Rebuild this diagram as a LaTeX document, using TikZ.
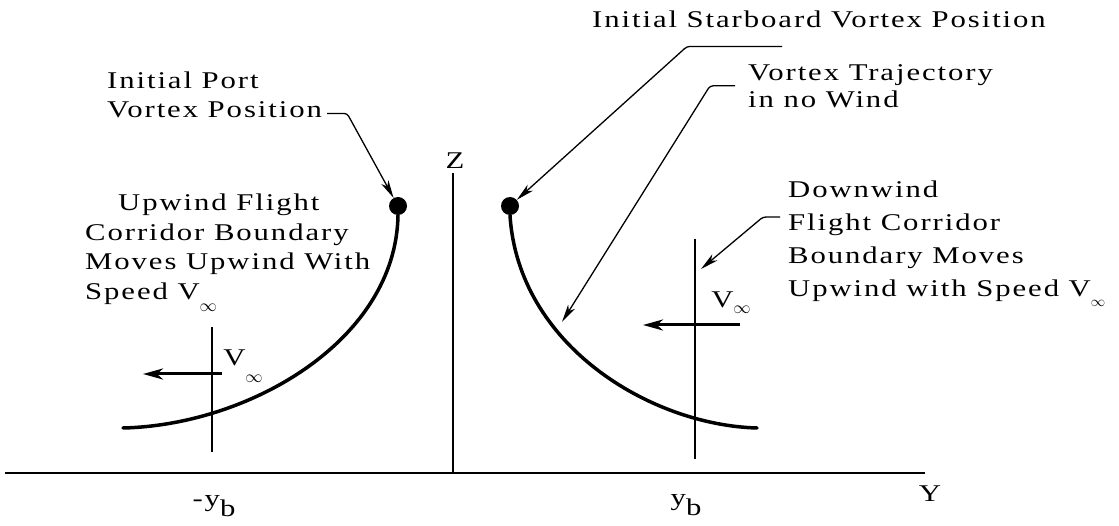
\documentclass[tikz,border=0pt]{standalone}
\usepackage{fontspec}
\setmainfont{Liberation Serif}[FakeStretch=1.28, LetterSpace=8]
\usetikzlibrary{arrows.meta, positioning}

\newcommand{\vinf}[2][18]{V\raisebox{-#2}{\fontsize{#1}{#1}\selectfont$\infty$}}
\newcommand{\lowb}{\raisebox{-0.4em}{b}}

\begin{document}
\begin{tikzpicture}[
    x=1pt, y=-1pt,
    font=\fontsize{24}{29}\selectfont,
    >=Stealth,
    % Line Styles
    axisline/.style={line width=2pt},
    thinline/.style={line width=1.2pt},
    trajectory/.style={line width=3.5pt, line cap=round},
    leader/.style={line width=1.3pt, rounded corners=3pt, -{Stealth[length=18pt, width=8pt, inset=5pt]}},
    wind/.style={line width=3pt, -{Stealth[length=20pt, width=11pt, inset=6pt]}},
    % Node Styles
    vortex/.style={circle, fill=black, inner sep=0pt, minimum size=18pt},
    txt/.style={inner sep=0pt, align=left, anchor=north west},
    axlabel/.style={inner sep=0pt}
]
\useasboundingbox (0,0) rectangle (1119,526);

% =========================================================
% AXES AND BOUNDARIES
% =========================================================
\coordinate (origin) at (453,473);
\coordinate (yStart) at (5,473);
\coordinate (yEnd) at (925,473);
\coordinate (zTop) at (453,173);
\draw[axisline] (yStart) -- (yEnd);
\draw[thinline] (origin) -- (zTop);

\node[axlabel] (zLabel) at (455,161) {Z};
\node[axlabel] (yLabel) at (930,494) {Y};

% Flight corridor boundaries
\coordinate (bndLTop) at (212,327);
\coordinate (bndLBot) at (212,452);
\coordinate (bndRTop) at (695,239);
\coordinate (bndRBot) at (695,459);
\draw[thinline] (bndLTop) -- (bndLBot);
\draw[thinline] (bndRTop) -- (bndRBot);

\node[axlabel] (ybLeft) at (214,506) {-y\lowb};
\node[axlabel] (ybRight) at (686,505) {y\lowb};

% =========================================================
% VORTICES AND TRAJECTORIES
% =========================================================
\node[vortex] (dotPort) at (398,206) {};
\node[vortex] (dotStar) at (510,206) {};

\draw[trajectory] (dotPort.south) .. controls (396,340) and (250,425) .. (123,428);
\draw[trajectory] (dotStar.south) .. controls (518,345) and (650,425) .. (757,428);

\coordinate (trajTip) at (562,322);
\coordinate (downTip) at (701,269);

% Wind arrows
\coordinate (windLTail) at (222,374);
\coordinate (windLHead) at (143,374);
\coordinate (windRTail) at (740,325);
\coordinate (windRHead) at (643,325);
\draw[wind] (windLTail) -- (windLHead);
\draw[wind] (windRTail) -- (windRHead);

\node[axlabel] (vinfLeft) at (243,366) {\vinf{0.7em}};
\node[axlabel] (vinfRight) at (731,303) {\vinf{0.25em}};

% =========================================================
% TEXT LABELS
% =========================================================
\node[txt] (lblPort) at (107,72) {Initial Port\\Vortex Position};
\node[txt, font=\fontsize{24}{29.5}\selectfont] (lblUpwind) at (85,194) {%
    \hspace*{33pt}Upwind Flight\\Corridor Boundary\\Moves Upwind With\\Speed \vinf{0.5em}};
\node[txt] (lblStar) at (592,11) {Initial Starboard Vortex Position};
\node[txt, font=\fontsize{24}{27}\selectfont] (lblTraj) at (748,64) {Vortex Trajectory\\in no Wind};
\node[txt, font=\fontsize{24}{33}\selectfont] (lblDown) at (788,181) {%
    Downwind\\Flight Corridor\\Boundary Moves\\Upwind with Speed \vinf[15]{0.4em}};

% Leaders
\draw[leader] ([shift={(5,-5)}]lblPort.south east) -- ++(20,0) -- (dotPort);
\draw[leader] ([shift={(190,18)}]lblStar.south west) -- ++(-95,0) -- (dotStar);
\draw[leader] ([xshift=-13pt]lblTraj.west) -- ++(-25,0) -- (trajTip);
\draw[leader] ([shift={(-8,36)}]lblDown.north west) -- ++(-17,0) -- (downTip);

\end{tikzpicture}
\end{document}
